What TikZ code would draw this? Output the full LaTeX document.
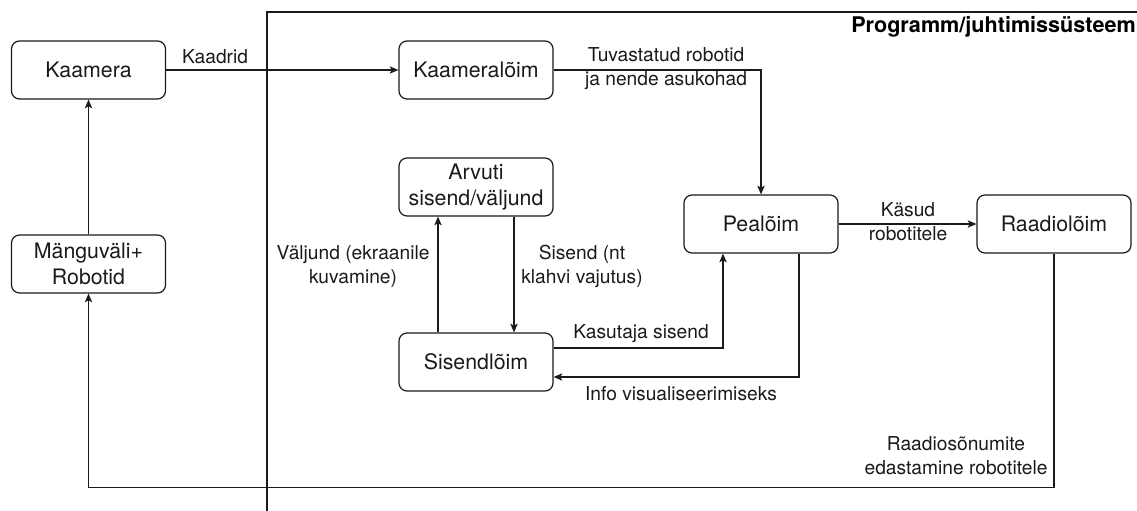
\documentclass[tikz,border=0pt]{standalone}
\usepackage{fontspec}
\setmainfont{TeX Gyre Heros}
\usetikzlibrary{arrows.meta,calc}
\definecolor{ink}{HTML}{1A1A1A}
\tikzset{
  block/.style={draw=ink, line width=0.9pt, rounded corners=6pt, fill=white,
    minimum width=115.5pt, minimum height=43.5pt, align=center, inner sep=2pt,
    font=\fontsize{16}{19.5}\selectfont, text=ink},
  lbl/.style={align=center, inner sep=1pt, font=\fontsize{14.4}{18}\selectfont, text=ink},
  conn/.style={draw=ink, line width=0.9pt, -{Stealth[length=6.5pt,width=5.5pt,inset=1.5pt]}},
}
\begin{document}
\begin{tikzpicture}[x=0.75pt,y=-0.75pt]
  \useasboundingbox (0,0) rectangle (1137,510);
  % system frame
  \draw[ink, line width=0.9pt] (267,512) -- (267,12) -- (1140,12);
  \node[anchor=east, inner sep=0pt, font=\bfseries\fontsize{16.2}{19}\selectfont, text=black]
    (title) at (1136,27) {Programm/juhtimissüsteem};

  % blocks
  \node[block] (kam)  at (88.5,70)   {Kaamera};
  \node[block] (mang) at (88.5,264)  {Mänguväli+\\Robotid};
  \node[block] (kl)   at (476,70)    {Kaameralõim};
  \node[block] (arv)  at (476,187)   {Arvuti\\sisend/väljund};
  \node[block] (pea)  at (761,224)   {Pealõim};
  \node[block] (rad)  at (1054,224)  {Raadiolõim};
  \node[block] (sis)  at (476,362)   {Sisendlõim};

  % connectors
  \draw[conn] (kam.east) -- (kl.west);
  \draw[conn] (kl.east) -| (pea.north);
  \draw[conn] (pea.east) -- (rad.west);
  \draw[conn] ($(arv.south)+(38,0)$) -- ($(sis.north)+(38,0)$);
  \draw[conn] ($(sis.north)+(-38,0)$) -- ($(arv.south)+(-38,0)$);
  \draw[conn] ($(sis.east)+(0,-14)$) -| ($(pea.south)+(-38,0)$);
  \draw[conn] ($(pea.south)+(38,0)$) |- ($(sis.east)+(0,15)$);
  \coordinate (down) at ($(rad.south)+(0,234)$);
  \draw[conn] (rad.south) -- (down) -| (mang.south);
  \draw[conn] (mang.north) -- (kam.south);

  % connector labels
  \node[lbl] (l1) at (215,57)  {Kaadrid};
  \node[lbl] (l2) at (666,69)  {Tuvastatud robotid\\ja nende asukohad};
  \node[lbl] (l3) at (908,222) {Käsud\\robotitele};
  \node[lbl] (l4) at (582,266) {Sisend (nt\\klahvi vajutus)};
  \node[lbl] (l5) at (353,267) {Väljund (ekraanile\\kuvamine)};
  \node[lbl] (l6) at (641,334) {Kasutaja sisend};
  \node[lbl] (l7) at (681,394) {Info visualiseerimiseks};
  \node[lbl] (l8) at (956,456) {Raadiosõnumite\\edastamine robotitele};
\end{tikzpicture}
\end{document}
